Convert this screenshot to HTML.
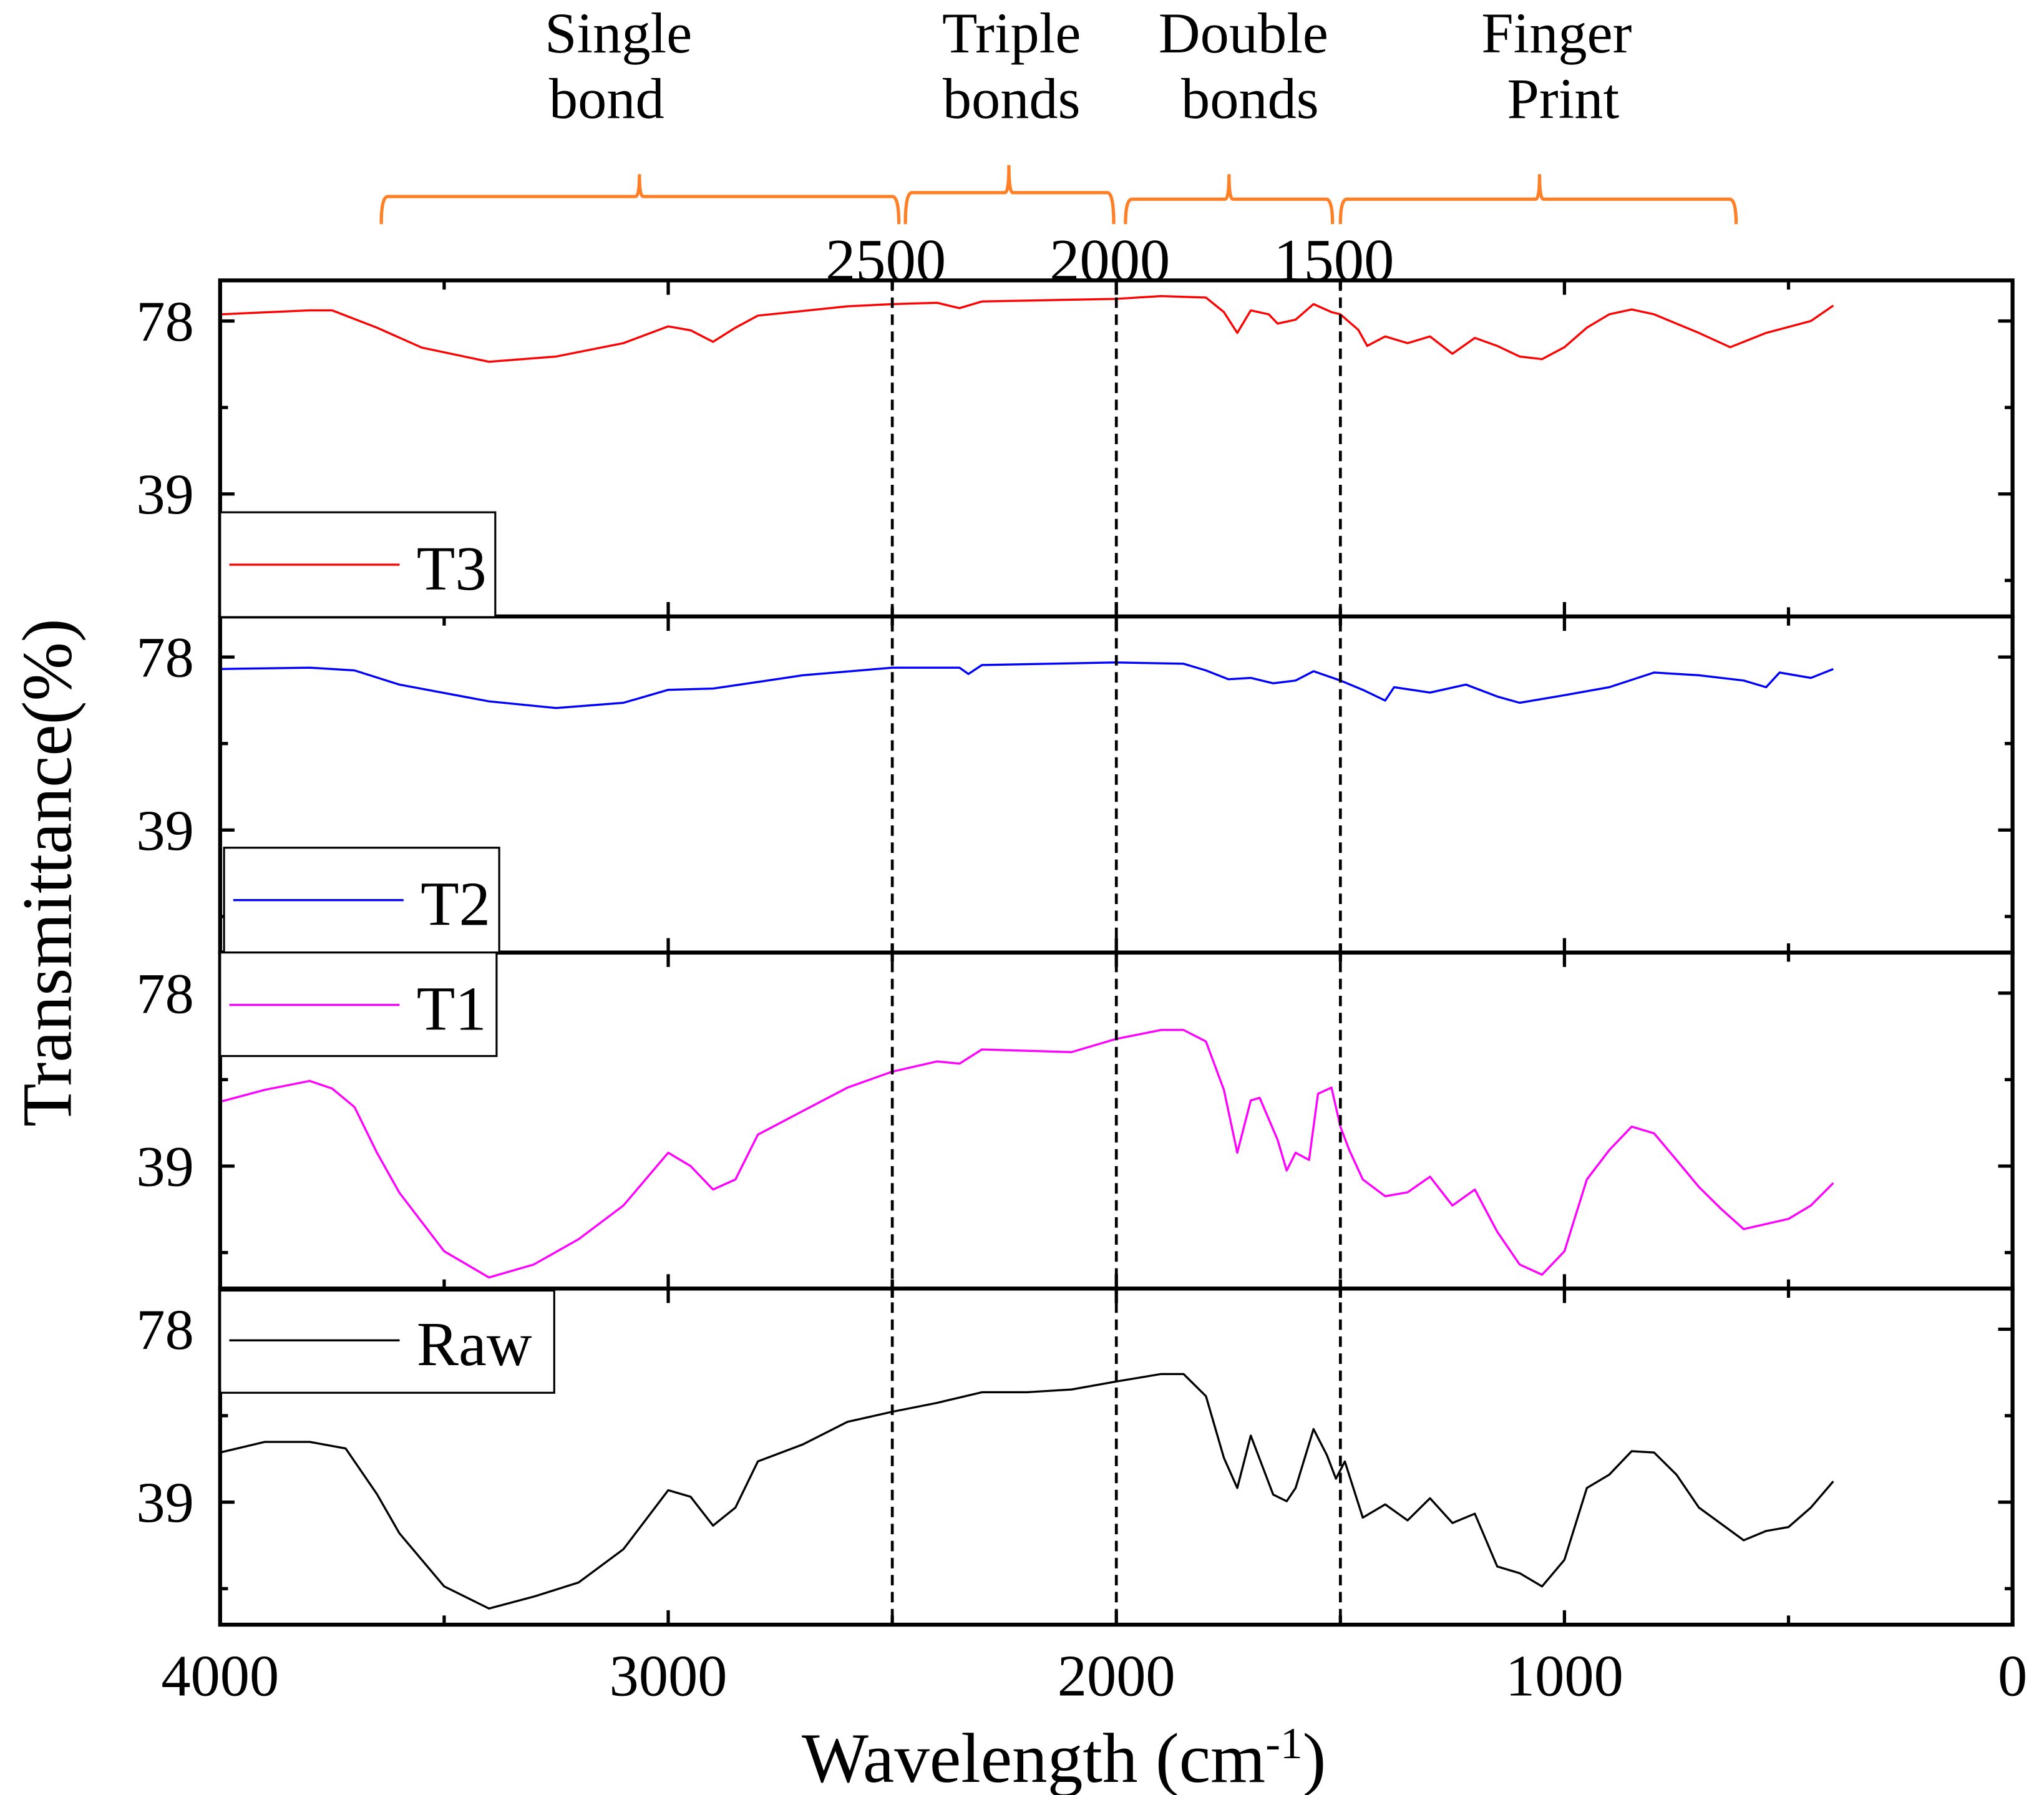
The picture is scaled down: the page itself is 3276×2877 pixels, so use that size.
<!DOCTYPE html>
<html><head><meta charset="utf-8"><style>
html,body{margin:0;padding:0;background:#fff}
svg{display:block}
text{font-family:"Liberation Serif",serif;fill:#000}
</style></head><body>
<svg id="chart" width="3276" height="2877" viewBox="0 0 1560 1370" preserveAspectRatio="none" xmlns="http://www.w3.org/2000/svg">
<g id="marks"></g>
</svg>
<script>
const wT3=[4000,3800,3750,3650,3550,3400,3250,3100,3000,2950,2900,2850,2800,2600,2500,2400,2350,2300,2000,1900,1800,1760,1730,1700,1660,1640,1600,1560,1520,1500,1460,1440,1400,1350,1300,1250,1200,1150,1100,1050,1000,950,900,850,800,700,630,550,450,400];
const vT3=[79.5,80.4,80.4,76.5,72,68.8,70,73,76.8,75.9,73.3,76.5,79.2,81.3,81.8,82.1,80.9,82.4,83,83.6,83.3,80,75.3,80.4,79.5,77.4,78.3,81.8,80,79.5,76,72.4,74.5,73,74.5,70.6,74.2,72.4,70,69.4,72.1,76.5,79.5,80.6,79.5,75.3,72.1,75.3,78,81.5];
const wT2=[4000,3800,3700,3600,3400,3250,3100,3000,2900,2800,2700,2500,2350,2330,2300,2000,1850,1800,1750,1700,1650,1600,1560,1500,1450,1400,1380,1300,1220,1150,1100,1000,900,800,700,600,550,520,450,400];
const vT2=[75.3,75.6,75,71.8,68,66.5,67.7,70.6,70.9,72.4,73.9,75.6,75.6,74.2,76.2,76.8,76.5,75,73,73.3,72.1,72.7,74.8,72.7,70.6,68.2,71.2,70,71.8,69.1,67.7,69.4,71.2,74.5,73.9,72.7,71.2,74.5,73.3,75.3];
const wT1=[4000,3900,3800,3750,3700,3650,3600,3500,3400,3300,3200,3100,3000,2950,2900,2850,2800,2700,2600,2500,2400,2350,2300,2200,2100,2000,1900,1850,1800,1760,1730,1700,1680,1640,1620,1600,1570,1550,1520,1500,1480,1450,1400,1350,1300,1250,1200,1150,1100,1050,1000,950,900,850,800,750,700,650,600,500,450,400];
const vT1=[53.5,56.2,58.2,56.5,52.3,42,33,19.8,13.9,16.8,22.5,30.1,42,39,33.7,36,46.1,51.4,56.7,60.3,62.6,62.1,65.3,65,64.7,67.7,69.7,69.7,67.1,56.2,42,53.8,54.4,44.9,38,42,40.4,55.3,56.7,47.9,42.6,36,32.2,33.1,36.6,30.1,33.7,24.2,16.8,14.5,19.8,36,42.6,47.9,46.4,40.4,34.3,29.3,24.8,27.1,30.1,35.2];
const wRaw=[4000,3900,3800,3720,3650,3600,3500,3400,3300,3200,3100,3000,2950,2900,2850,2800,2700,2600,2500,2400,2300,2200,2100,2000,1900,1850,1800,1760,1730,1700,1650,1620,1600,1560,1530,1510,1490,1450,1400,1350,1300,1250,1200,1150,1100,1050,1000,950,900,850,800,750,700,600,550,500,450,400];
const vRaw=[50.2,52.6,52.6,51.1,40.8,32,20,15,17.7,20.9,28.4,41.7,40.2,33.7,37.8,48.2,52,57.1,59.4,61.4,63.8,63.8,64.4,66.2,67.9,67.9,62.9,49,42.2,54,40.7,39.2,42.2,55.5,49.6,44.3,48.2,35.5,38.5,34.9,39.9,34.3,36.4,24.5,23,20,26,42.2,45.2,50.5,50.2,45.2,37.8,30.4,32.5,33.4,37.8,43.7];
const seriesNames=["T3","T2","T1","Raw"];
const seriesColors=["#ff0000","#0000ff","#ff00ff","#000000"];
const xTicks=[4000,3000,2000,1000,0];
const yTicks=[78,39];
const dividers=[2500,2000,1500];

const NS="http://www.w3.org/2000/svg";
const svg=document.getElementById('chart');
const L=168,R=1536,T=214,B=1240,PH=(B-T)/4;
function X(w){return L+(4000-w)/4000*(R-L);}
function Y(i,v){const y78=T+PH*i+31;return y78-(v-78)*132/39;}
function mk(tag,attrs,parent){const e=document.createElementNS(NS,tag);for(const k in attrs)e.setAttribute(k,attrs[k]);(parent||svg).appendChild(e);return e;}

const data=[[wT3,vT3],[wT2,vT2],[wT1,vT1],[wRaw,vRaw]];
data.forEach((d,i)=>{
  const pts=d[0].map((w,j)=>X(w).toFixed(1)+','+Y(i,d[1][j]).toFixed(1)).join(' ');
  const pl=mk('polyline',{points:pts,fill:'none',stroke:seriesColors[i],'stroke-width':1.6,'stroke-linejoin':'round'});
  
  
});

for(let i=0;i<4;i++){
  const top=T+PH*i,bot=top+PH;
  const r=mk('rect',{x:L,y:top,width:R-L,height:PH,fill:'none',stroke:'#000','stroke-width':3});
  
  
  for(let w=4000;w>=0;w-=500){
    const major=w%1000===0;const len=major?11:7;
    mk('line',{x1:X(w),x2:X(w),y1:bot,y2:bot-len,stroke:'#000','stroke-width':2.5});
    mk('line',{x1:X(w),x2:X(w),y1:top,y2:top+len,stroke:'#000','stroke-width':2.5});
  }
  [78,58.5,39,19.5].forEach((v,k)=>{
    const len=k%2===0?11:6;const y=Y(i,v);
    mk('line',{x1:L,x2:L+len,y1:y,y2:y,stroke:'#000','stroke-width':2.5});
    mk('line',{x1:R,x2:R-len,y1:y,y2:y,stroke:'#000','stroke-width':2.5});
  });
  yTicks.forEach(v=>{
    const t=mk('text',{x:L-20,y:Y(i,v)+15,'text-anchor':'end','font-size':44});
    t.textContent=v;
    
    
  });
}
xTicks.forEach(w=>{
  const t=mk('text',{x:X(w),y:1294,'text-anchor':'middle','font-size':45});
  t.textContent=w;
  
  
});
dividers.forEach(w=>{
  const l=mk('line',{x1:X(w),x2:X(w),y1:T,y2:B,stroke:'#000','stroke-width':2.2,'stroke-dasharray':'8,5'});
  
  
  const t=mk('text',{x:X(w)-5,y:214,'text-anchor':'middle','font-size':46});
  t.textContent=w;
  
  
});
const braces=[[291,686,488,150,133,"Single","bond",472,463],[691,850,770,147,126,"Triple","bonds",772,772],[859,1017,938,152,133,"Double","bonds",949,954],[1023,1325,1175,152,133,"Finger","Print",1188,1193]];
braces.forEach(b=>{
  const [x1,x2,xm,y,yt]=b;
  const d=`M${x1},171 Q${x1},${y} ${x1+5},${y} L${xm-3},${y} Q${xm},${y} ${xm},${yt} Q${xm},${y} ${xm+3},${y} L${x2-5},${y} Q${x2},${y} ${x2},171`;
  const p=mk('path',{d:d,fill:'none',stroke:'#ff7f27','stroke-width':2.5});
  
  
  const t1=mk('text',{x:b[7],y:40,'text-anchor':'middle','font-size':44});
  t1.textContent=b[5];
  
  
  const t2=mk('text',{x:b[8],y:90,'text-anchor':'middle','font-size':44});
  t2.textContent=b[6];
  
  
});
const legends=[[168,391,210,80,431],[171,647,210,80,687],[168,727,211,79,767],[168,985,255,78,1023]];
legends.forEach((g,i)=>{
  const r=mk('rect',{x:g[0],y:g[1],width:g[2],height:g[3],fill:'#fff',stroke:'#000','stroke-width':1.5});
  
  
  const l=mk('line',{x1:g[0]+7,x2:g[0]+137,y1:g[4],y2:g[4],stroke:seriesColors[i],'stroke-width':1.6});
  
  
  const t=mk('text',{x:g[0]+150,y:g[4]+19,'font-size':48});
  t.textContent=seriesNames[i];
  
  
});
const yt=mk('text',{x:0,y:0,'text-anchor':'middle','font-size':54,transform:'translate(54,666) rotate(-90)'});
yt.textContent='Transmittance(%)';


const xt=mk('text',{x:812,y:1360,'text-anchor':'middle','font-size':54});
xt.innerHTML='Wavelength (cm<tspan dy="-18" font-size="34">-1</tspan><tspan dy="18">)</tspan>';


</script>
</body></html>
